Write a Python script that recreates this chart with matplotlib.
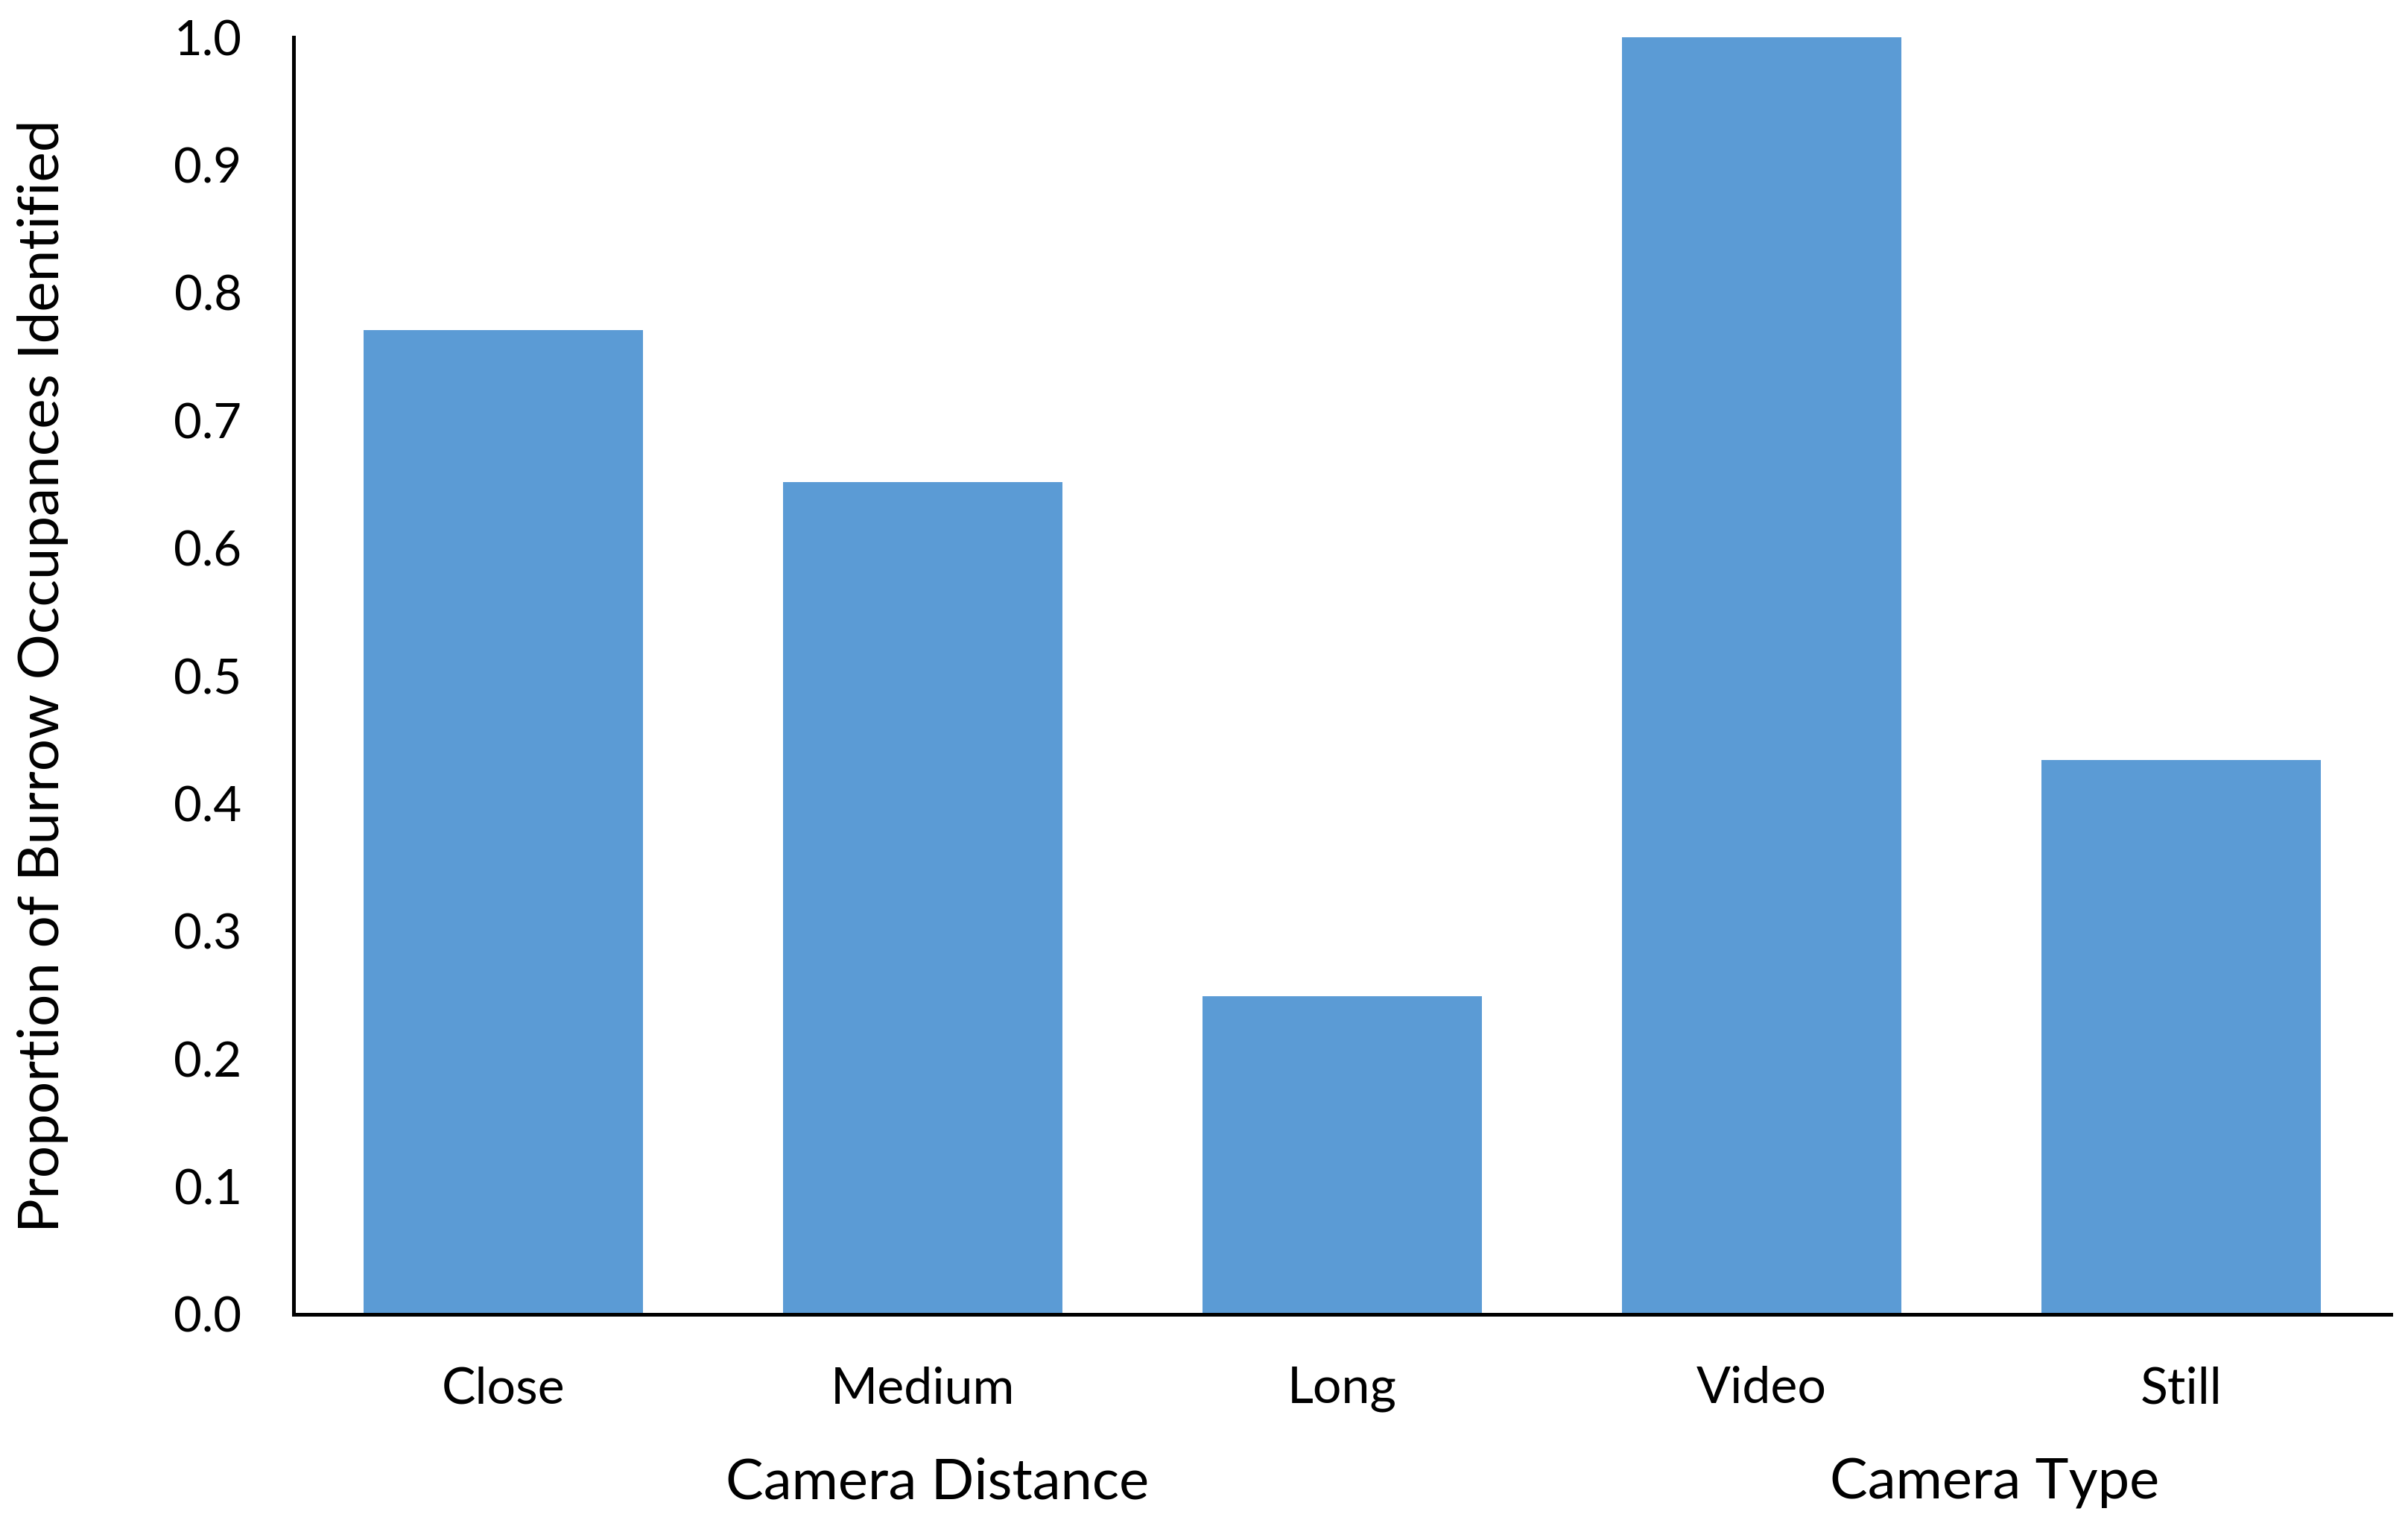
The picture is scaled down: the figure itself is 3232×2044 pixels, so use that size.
import matplotlib
matplotlib.use('Agg')
import matplotlib.pyplot as plt
import matplotlib.transforms as mtransforms

categories = ['Close', 'Medium', 'Long', 'Video', 'Still']
proportions = [0.771, 0.652, 0.249, 1.0, 0.434]
groups = ['Camera Distance', 'Camera Type']
group_members = [[0, 1, 2], [3, 4]]
y_ticks = [0.0, 0.1, 0.2, 0.3, 0.4, 0.5, 0.6, 0.7, 0.8, 0.9, 1.0]

plt.rcParams['font.family'] = ['Lato', 'DejaVu Sans']

fig = plt.figure(figsize=(16.16, 10.22), dpi=200)
ax = fig.add_axes([0.1219, 0.137, 0.871, 0.8385])

x = list(range(len(categories)))
ax.bar(x, proportions, width=0.667, color='#5B9BD5')

ax.set_xlim(-0.5, len(categories) - 0.5)
ax.set_ylim(0, 1.0)
ax.set_yticks(y_ticks)
ax.set_yticklabels(['%.1f' % t for t in y_ticks])
ax.set_xticks(x)
ax.set_xticklabels(categories)
ax.tick_params(axis='y', length=0, pad=25, labelsize=23.5)
ax.tick_params(axis='x', length=0, pad=25, labelsize=24.5)

for side in ['top', 'right']:
    ax.spines[side].set_visible(False)
ax.spines['left'].set_linewidth(1.8)
ax.spines['bottom'].set_linewidth(1.8)

# group labels under the category labels
trans = mtransforms.blended_transform_factory(ax.transData, ax.transAxes)
offsets = [0.035, 0.055]
for name, members, off in zip(groups, group_members, offsets):
    cx = sum(members) / len(members) + off
    ax.text(cx, -0.1447, name, transform=trans, ha='center', va='baseline', fontsize=27.3)

ax.set_ylabel('Proportion of Burrow Occupances Identified', fontsize=27.5, va='center')
ax.yaxis.set_label_coords(-0.1194, 0.5)

fig.savefig('out.png', dpi=200)
